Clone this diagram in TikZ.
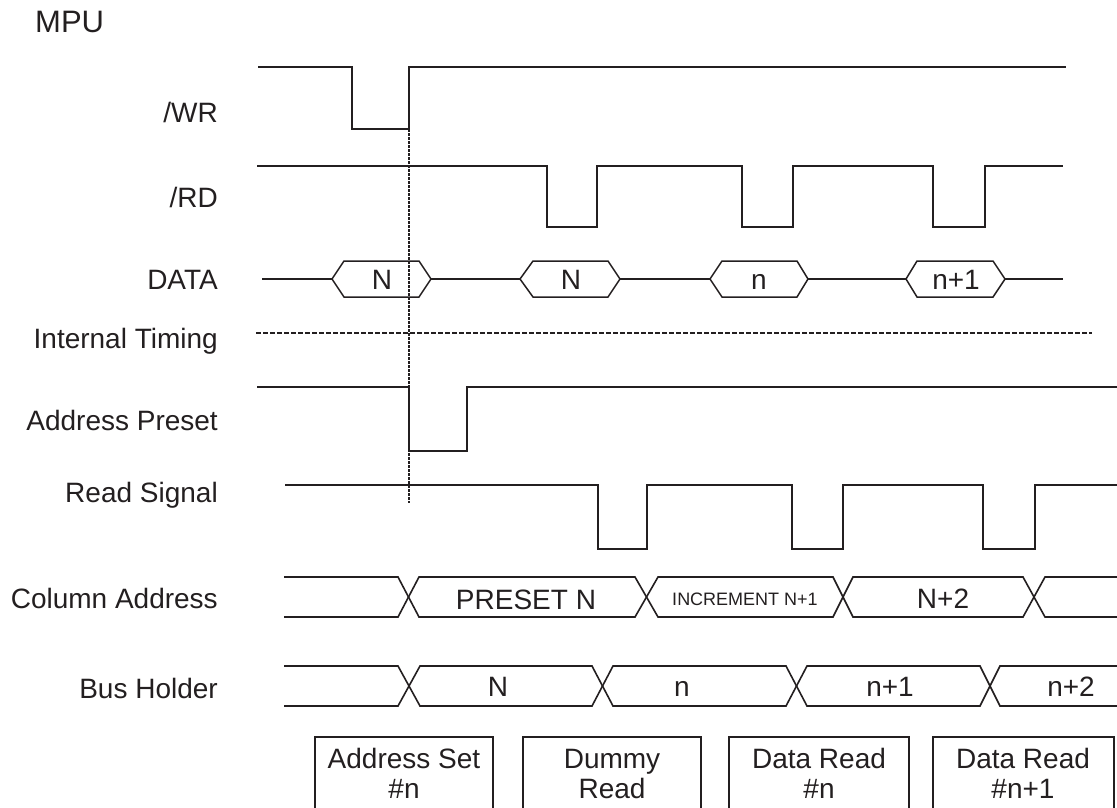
\documentclass[tikz,border=0pt]{standalone}
\usepackage{fontspec}
\setmainfont{Liberation Sans}
\definecolor{ink}{RGB}{35,31,32}
\begin{document}
\begin{tikzpicture}[x=1pt,y=-1pt,
  sig/.style={draw=ink,line width=1.5pt,line join=miter},
  datal/.style={draw=ink,line width=2.8pt},
  hexa/.style={draw=ink,line width=1.5pt},
  bus/.style={draw=ink,line width=1.6pt},
  lab/.style={anchor=base east,text=ink,font=\fontsize{28}{30}\selectfont,inner sep=0pt},
  val/.style={anchor=base,text=ink,font=\fontsize{28}{30}\selectfont,inner sep=0pt},
  small/.style={anchor=base,text=ink,font=\fontsize{18}{20}\selectfont,inner sep=0pt},
  boxline/.style={draw=ink,line width=1.5pt}]
\useasboundingbox (0,0) rectangle (1117,807);

% labels
\node[anchor=base west,text=ink,font=\fontsize{31}{33}\selectfont,inner sep=0pt] (mpu) at (35,32) {MPU};
\node[lab] (lwr) at (218,122) {/WR};
\node[lab] (lrd) at (218,207) {/RD};
\node[lab] (ldata) at (218,289) {DATA};
\node[lab] (lint) at (218,348) {Internal Timing};
\node[lab] (lap) at (218,430) {Address Preset};
\node[lab] (lrs) at (218,502) {Read Signal};
\node[lab] (lca) at (218,608) {Column Address};
\node[lab] (lbh) at (218,698) {Bus Holder};

% /WR
\draw[sig] (258,67)--(352,67)--(352,129)--(409,129)--(409,67)--(1066,67);
% /RD
\draw[sig] (257,166)--(547,166)--(547,227)--(597,227)--(597,166)--(742,166)--(742,227)--(793,227)--(793,166)--(933,166)--(933,227)--(985,227)--(985,166)--(1063,166);

% DATA
\draw[datal] (262,279)--(332,279);
\draw[hexa] (332,279)--(344,261)--(419,261)--(431,279)--(419,297)--(344,297)--cycle;
\draw[datal] (431,279)--(520,279);
\draw[hexa] (520,279)--(533,261)--(608,261)--(620,279)--(608,297)--(533,297)--cycle;
\draw[datal] (620,279)--(710,279);
\draw[hexa] (710,279)--(722,261)--(797,261)--(808,279)--(797,297)--(722,297)--cycle;
\draw[datal] (808,279)--(906,279);
\draw[hexa] (906,279)--(917,261)--(993,261)--(1005,279)--(993,297)--(917,297)--cycle;
\draw[datal] (1005,279)--(1063,279);
\node[val] (d1) at (382,289) {N};
\node[val] (d2) at (571,289) {N};
\node[val] (d3) at (759,289) {n};
\node[val] (d4) at (956,289) {n+1};

% Internal timing
\draw[draw=ink,line width=1.3pt,dash pattern=on 5pt off 2pt] (256,333)--(1092,333);

% Address Preset
\draw[sig] (257,387)--(409,387)--(409,451)--(467,451)--(467,387)--(1117,387);

% Read Signal
\draw[sig] (285,485)--(598,485)--(598,549)--(647,549)--(647,485)--(792,485)--(792,549)--(843,549)--(843,485)--(983,485)--(983,549)--(1035,549)--(1035,485)--(1117,485);

% Column Address
\draw[bus] (284,577)--(398,577)--(419,617)--(635,617)--(658,577)--(833,577)--(853,617)--(1023,617)--(1045,577)--(1117,577);
\draw[bus] (284,617)--(398,617)--(419,577)--(635,577)--(658,617)--(833,617)--(853,577)--(1023,577)--(1045,617)--(1117,617);
\node[val] (c1) at (526,609) {PRESET N};
\node[small] (c2) at (745,605) {INCREMENT N+1};
\node[val] (c3) at (943,608) {N+2};

% Bus Holder
\draw[bus] (284,666)--(398,666)--(420,706)--(592,706)--(613,666)--(786,666)--(807,706)--(980,706)--(1000,666)--(1117,666);
\draw[bus] (284,706)--(398,706)--(420,666)--(592,666)--(613,706)--(786,706)--(807,666)--(980,666)--(1000,706)--(1117,706);
\node[val] (b1) at (498,696) {N};
\node[val] (b2) at (682,696) {n};
\node[val] (b3) at (890,696) {n+1};
\node[val] (b4) at (1071,696) {n+2};

% dotted reference line
\draw[draw=ink,line width=2.6pt,dash pattern=on 2.5pt off 1.5pt] (409,129)--(409,503);

% phase boxes
\draw[boxline] (315,808)--(315,737)--(493,737)--(493,808);
\draw[boxline] (523,808)--(523,737)--(701,737)--(701,808);
\draw[boxline] (729,808)--(729,737)--(909,737)--(909,808);
\draw[boxline] (933,808)--(933,737)--(1114,737)--(1114,808);
\node[val] (p1a) at (404,768) {Address Set};
\node[val] (p1b) at (404,798) {\#n};
\node[val] (p2a) at (612,768) {Dummy};
\node[val] (p2b) at (612,798) {Read};
\node[val] (p3a) at (819,768) {Data Read};
\node[val] (p3b) at (819,798) {\#n};
\node[val] (p4a) at (1023,768) {Data Read};
\node[val] (p4b) at (1023,798) {\#n+1};
\end{tikzpicture}
\end{document}
